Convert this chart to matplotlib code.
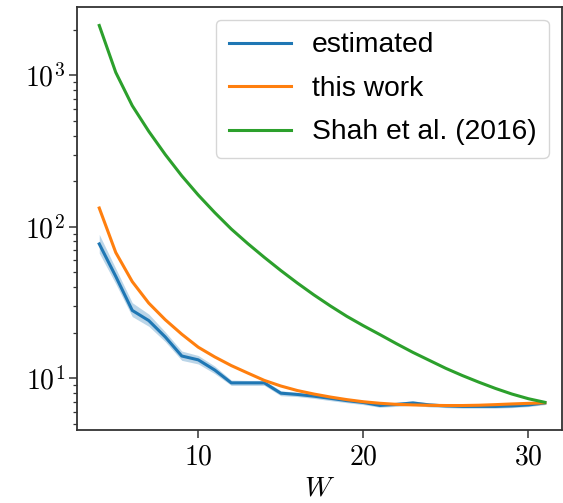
import numpy as np
import matplotlib
matplotlib.use('Agg')
import matplotlib.pyplot as plt
from matplotlib.ticker import FuncFormatter, LogLocator, FixedLocator

plt.rcParams['mathtext.fontset'] = 'cm'

# data
W = list(range(4, 32))
estimated = [77, 47, 28, 24, 18.7, 14.0, 13.2, 11.3, 9.3, 9.3, 9.3, 7.95, 7.8, 7.6,
             7.35, 7.1, 6.9, 6.6, 6.7, 6.85, 6.65, 6.55, 6.5, 6.5, 6.5, 6.55, 6.65, 6.85]
est_lo = [67, 42, 25.5, 22, 17.4, 13.1, 12.4, 10.7, 8.95, 8.95, 8.95, 7.65, 7.55, 7.35,
          7.1, 6.88, 6.68, 6.42, 6.5, 6.62, 6.45, 6.38, 6.33, 6.33, 6.33, 6.38, 6.48, 6.68]
est_hi = [89, 53, 31.5, 26.5, 20.2, 15.1, 14.1, 12.0, 9.7, 9.65, 9.65, 8.25, 8.05, 7.85,
          7.6, 7.33, 7.12, 6.8, 6.92, 7.08, 6.86, 6.74, 6.68, 6.68, 6.68, 6.73, 6.83, 7.02]
this_work = [133, 67.6, 43.4, 31.3, 24.3, 19.5, 16.0, 13.8, 12.1, 10.8, 9.66, 8.87, 8.28, 7.85,
             7.5, 7.21, 6.98, 6.82, 6.71, 6.65, 6.61, 6.59, 6.59, 6.62, 6.68, 6.75, 6.81, 6.87]
shah = [2138, 1047, 631, 427, 300, 217, 162, 124, 96.6, 77.4, 62.8, 51.4, 42.5, 35.5,
        30.0, 25.6, 22.2, 19.4, 16.9, 14.8, 13.1, 11.6, 10.4, 9.4, 8.55, 7.85, 7.31, 6.92]

fig = plt.figure(figsize=(5.63, 5.03), dpi=100)
ax = fig.add_axes([0.1373, 0.1451, 0.8604, 0.8409])

lw = 2.2
ax.fill_between(W, est_lo, est_hi, color='#1f77b4', alpha=0.3, linewidth=0)
ax.plot(W, estimated, color='#1f77b4', lw=lw, label='estimated')
ax.plot(W, this_work, color='#ff7f0e', lw=lw, label='this work')
ax.plot(W, shah, color='#2ca02c', lw=lw, label='Shah et al. (2016)')

ax.set_yscale('log')
ax.set_xlim(2.67, 32.02)
ax.set_ylim(4.54, 2830)

ax.xaxis.set_major_locator(FixedLocator([10, 20, 30]))
ax.xaxis.set_major_formatter(FuncFormatter(lambda v, p: r'$%d$' % v))
ax.yaxis.set_major_locator(LogLocator(base=10))
ax.yaxis.set_major_formatter(FuncFormatter(lambda v, p: r'$10^{%d}$' % round(np.log10(v))))
ax.yaxis.set_minor_locator(LogLocator(base=10, subs=np.arange(2, 10)))
ax.yaxis.set_minor_formatter(FuncFormatter(lambda v, p: ''))

ax.tick_params(which='major', labelsize=20, length=5.5, width=1.1, color='#333333')
ax.tick_params(which='minor', length=3, width=0.9, color='#333333')
for s in ax.spines.values():
    s.set_linewidth(1.3)
    s.set_color('#333333')

ax.set_xlabel(r'$W$', fontsize=20, labelpad=2)

ax.legend(loc='upper right', prop={'family': 'Liberation Sans', 'size': 20.3},
          handlelength=2.2, handletextpad=0.75, labelspacing=0.62,
          borderpad=0.45, borderaxespad=0.45)

fig.savefig('out.png', dpi=100)
